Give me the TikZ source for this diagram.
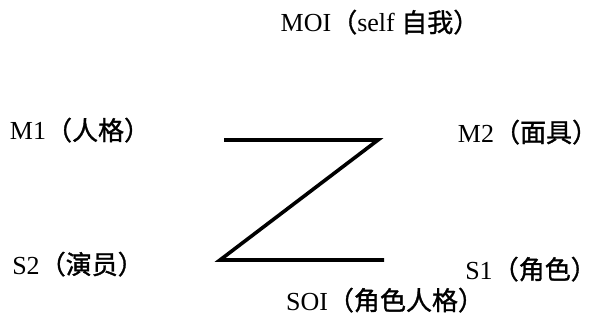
\documentclass[tikz,border=0pt]{standalone}
\usepackage{fontspec}
\setmainfont{Liberation Serif}
\newfontfamily\cjk{Noto Sans CJK SC}[FakeBold=1.2]
\begin{document}
\begin{tikzpicture}[x=0.5pt, y=-0.5pt, font=\fontsize{13}{15}\selectfont,
  tag/.style={inner sep=0pt, anchor=base},
  zline/.style={line width=1.8pt, line join=miter}]
\useasboundingbox (0,0) rectangle (597,320);
% labels
\node[tag] (MOI) at (380,32) {MOI{\cjk （}self {\cjk 自我）}};
\node[tag] (M1) at (80,140) {M1{\cjk （人格）}};
\node[tag] (M2) at (528,142) {M2{\cjk （面具）}};
\node[tag] (S2) at (78,274) {S2{\cjk （演员）}};
\node[tag] (S1) at (531,279) {S1{\cjk （角色）}};
\node[tag] (SOI) at (385,310) {SOI{\cjk （角色人格）}};
% the Z
\coordinate (za) at (224,140);
\coordinate (zb) at (378,140);
\coordinate (zc) at (220,260);
\coordinate (zd) at (384,260);
\draw[zline] (za) -- (zb) -- (zc) -- (zd);
\end{tikzpicture}
\end{document}
